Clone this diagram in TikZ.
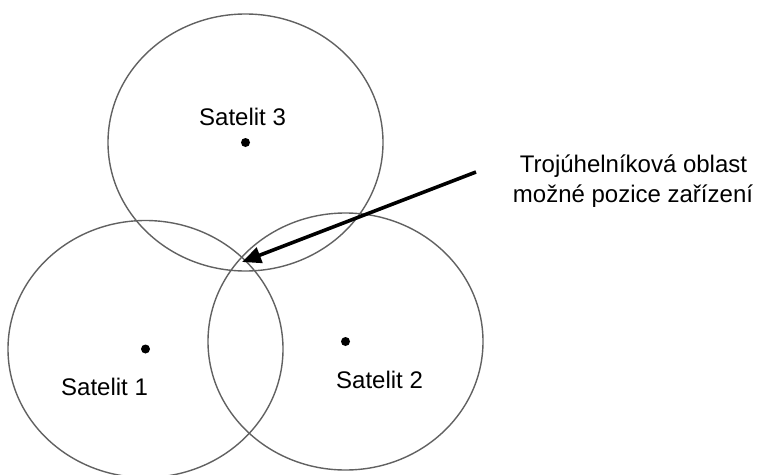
\documentclass[tikz,border=0pt]{standalone}
\usepackage{fontspec}
\setmainfont{Liberation Sans}
\usetikzlibrary{arrows.meta}

\begin{document}
\begin{tikzpicture}[x=1pt,y=-1pt,
  zone/.style={draw=black!62,line width=1.4pt},
  sat/.style={circle,fill=black,inner sep=0pt,minimum size=9pt},
  lbl/.style={font=\fontsize{24}{28}\selectfont,inner sep=0pt,anchor=base west}]
\useasboundingbox (0,0) rectangle (757,474);
\foreach \n/\x/\y in {1/145.5/349,2/345.5/341.5,3/245.5/142.5} {
  \draw[zone] (\x,\y) ellipse [x radius=137.5pt,y radius=128.5pt];
  \node[sat] (s\n) at (\x,\y) {};
}
\node[lbl] (l3) at (199,125) {Satelit 3};
\node[lbl] (l1) at (61,395) {Satelit 1};
\node[lbl] (l2) at (336,388) {Satelit 2};
\node[lbl,anchor=base] (t1) at (633.5,172) {Trojúhelníková oblast};
\node[lbl,anchor=base] (t2) at (633,202) {možné pozice zařízení};
\coordinate (from) at (476,172);
\coordinate (tip) at (242,262);
\draw[line width=3.6pt,-{Triangle[length=19pt,width=16pt]}] (from) -- (tip);
\end{tikzpicture}
\end{document}
